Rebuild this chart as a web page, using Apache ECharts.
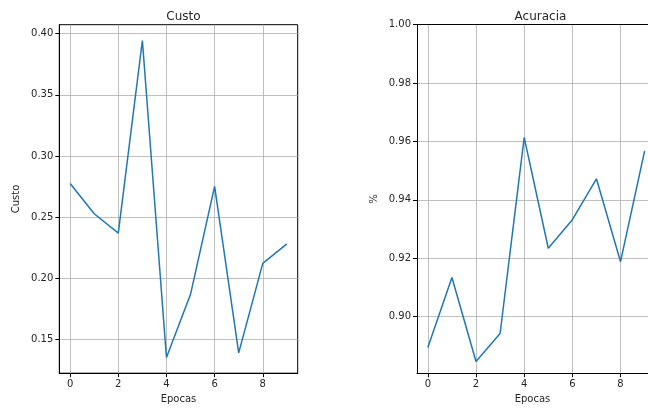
<!DOCTYPE html>
<html>
<head>
<meta charset="utf-8">
<script src="https://cdn.jsdelivr.net/npm/echarts@6/dist/echarts.min.js"></script>
<style>
  html, body { margin: 0; padding: 0; background: #fff; }
  #chart { width: 648px; height: 410px; }
</style>
</head>
<body>
<div id="chart"></div>
<script>
const epocas = [0, 1, 2, 3, 4, 5, 6, 7, 8, 9]
const custo = [0.2776, 0.2528, 0.2369, 0.3945, 0.1352, 0.1869, 0.2752, 0.1390, 0.2122, 0.2281]
const acuracia = [0.8894, 0.9134, 0.8846, 0.8942, 0.9614, 0.9234, 0.9332, 0.9472, 0.9188, 0.9568]
const xTicks = [0, 2, 4, 6, 8]
const custoTicks = [0.15, 0.20, 0.25, 0.30, 0.35, 0.40]
const acuraciaTicks = [0.90, 0.92, 0.94, 0.96, 0.98, 1.00]

const font = 'DejaVu Sans'
const txt = '#262626'

function xAxisFor(gridIndex, max) {
  return {
    type: 'value',
    gridIndex: gridIndex,
    min: -0.45,
    max: max,
    name: 'Epocas',
    nameLocation: 'middle',
    nameGap: 20,
    nameTextStyle: { color: txt, fontFamily: font, fontSize: 10 },
    axisLine: { show: true, onZero: false, lineStyle: { color: '#000', width: 1 } },
    axisTick: { show: true, inside: false, length: 4, customValues: xTicks, lineStyle: { color: '#000' } },
    axisLabel: { color: txt, fontFamily: font, fontSize: 10, margin: 6, customValues: xTicks },
    splitLine: { show: true, lineStyle: { color: '#b0b0b0', width: 0.8 } }
  }
}

// plain spine on the top of a panel
function topSpine(gridIndex, max) {
  return {
    type: 'value', gridIndex: gridIndex, position: 'top', min: -0.45, max: max,
    axisLine: { show: true, onZero: false, lineStyle: { color: '#000', width: 1 } },
    axisTick: { show: false }, axisLabel: { show: false }, splitLine: { show: false }
  }
}

function yAxisFor(gridIndex, min, max, ticks, name) {
  return {
    type: 'value',
    gridIndex: gridIndex,
    min: min,
    max: max,
    name: name,
    nameLocation: 'middle',
    nameGap: 38,
    nameTextStyle: { color: txt, fontFamily: font, fontSize: 10 },
    axisLine: { show: true, onZero: false, lineStyle: { color: '#000', width: 1 } },
    axisTick: { show: true, inside: false, length: 4, customValues: ticks, lineStyle: { color: '#000' } },
    axisLabel: {
      color: txt, fontFamily: font, fontSize: 10, margin: 6,
      customValues: ticks,
      formatter: v => v.toFixed(2)
    },
    splitLine: { show: true, lineStyle: { color: '#b0b0b0', width: 0.8 } }
  }
}

const chart = echarts.init(document.getElementById('chart'))
const option = {
  animation: false,
  backgroundColor: '#fff',
  title: [
    { text: 'Custo', left: 178.5, top: 6, textAlign: 'center',
      textStyle: { color: txt, fontFamily: font, fontSize: 12, fontWeight: 'normal' } },
    { text: 'Acuracia', left: 535.5, top: 6, textAlign: 'center',
      textStyle: { color: txt, fontFamily: font, fontSize: 12, fontWeight: 'normal' } }
  ],
  grid: [
    { left: 59.3, top: 24.7, width: 238.4, height: 348.5, show: true, borderColor: '#000', borderWidth: 1, backgroundColor: 'transparent' },
    { left: 417, top: 24.7, right: 0, height: 348.5 }
  ],
  xAxis: [xAxisFor(0, 9.45), xAxisFor(1, 9.14), topSpine(1, 9.14)],
  yAxis: [
    yAxisFor(0, 0.1224, 0.4074, custoTicks, 'Custo'),
    yAxisFor(1, 0.8806, 1.0, acuraciaTicks, '%')
  ],
  series: [
    {
      type: 'line', xAxisIndex: 0, yAxisIndex: 0,
      data: epocas.map((e, i) => [e, custo[i]]),
      showSymbol: false, lineStyle: { color: '#1f77b4', width: 1.5 }
    },
    {
      type: 'line', xAxisIndex: 1, yAxisIndex: 1,
      data: epocas.map((e, i) => [e, acuracia[i]]),
      showSymbol: false, lineStyle: { color: '#1f77b4', width: 1.5 }
    }
  ]
}
chart.setOption(option)
</script>
</body>
</html>
